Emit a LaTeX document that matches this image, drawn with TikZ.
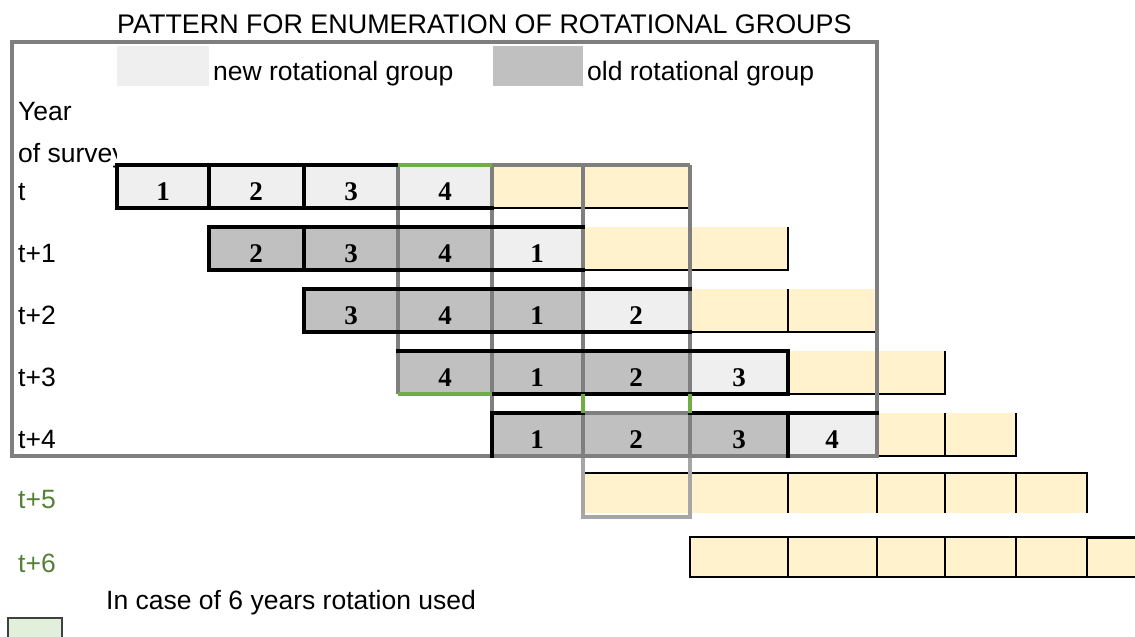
\documentclass[tikz,border=0pt]{standalone}
\usepackage{fontspec}
\setmainfont{Liberation Sans}
\newfontfamily\numfont{Liberation Serif}
\usetikzlibrary{positioning}

\definecolor{newgrp}{HTML}{EFEFEF}
\definecolor{oldgrp}{HTML}{C0C0C0}
\definecolor{creamcell}{HTML}{FFF2CC}
\definecolor{framegray}{HTML}{7F7F7F}
\definecolor{palegray}{HTML}{A6A6A6}
\definecolor{markgreen}{HTML}{70AD47}
\definecolor{yeargreen}{HTML}{548235}
\definecolor{legendgreen}{HTML}{E2EFDA}

\tikzset{
    lbl/.style={anchor=base west, inner sep=0pt, font=\fontsize{26.5}{30}\selectfont},
    num/.style={anchor=base, inner sep=0pt, font=\numfont\bfseries\fontsize{27}{30}\selectfont},
    thickb/.style={line width=4pt, black, line cap=rect},
    grayb/.style={line width=4pt, framegray},
    greenb/.style={line width=4pt, markgreen},
    paleb/.style={line width=4pt, palegray},
    thinb/.style={line width=1.5pt, black}
}

\begin{document}
\begin{tikzpicture}[x=1pt, y=-1pt]
\useasboundingbox (0,0) rectangle (1135,637);

% title and legend
\node (title) [lbl, font=\fontsize{26.9}{30}\selectfont] at (117,33) {PATTERN FOR ENUMERATION OF ROTATIONAL GROUPS};
\fill[newgrp] (117,46) rectangle (209,86);
\node (newlbl) [lbl] at (213,80) {new rotational group};
\fill[oldgrp] (493,46) rectangle (583,86);
\node (oldlbl) [lbl] at (587,80) {old rotational group};

% row labels
\node (year) [lbl] at (18,120) {Year};
\begin{scope}
    \clip (0,130) rectangle (116,175);
    \node (survey) [lbl] at (18,162) {of survey};
\end{scope}
\foreach \lab/\yt/\c [count=\k] in {t/165/black, t+1/227/black, t+2/289/black, t+3/351/black,
        t+4/413/black, t+5/473/yeargreen, t+6/537/yeargreen}
    \node (row\k) [lbl, text=\c] at (18,\yt+35) {\lab};

% cell fills
\foreach \xl/\xr/\yt/\c in {
        117/209/165/newgrp, 209/304/165/newgrp, 304/398/165/newgrp, 398/492/165/newgrp,
        209/304/227/oldgrp, 304/398/227/oldgrp, 398/492/227/oldgrp, 492/583/227/newgrp,
        304/398/289/oldgrp, 398/492/289/oldgrp, 492/583/289/oldgrp, 583/690/289/newgrp,
        398/492/351/oldgrp, 492/583/351/oldgrp, 583/690/351/oldgrp, 690/788/351/newgrp,
        492/583/413/oldgrp, 583/690/413/oldgrp, 690/788/413/oldgrp, 788/877/413/newgrp,
        492/690/165/creamcell, 583/788/227/creamcell, 690/877/289/creamcell,
        788/945/351/creamcell, 877/1016/413/creamcell}
    \fill[\c] (\xl,\yt) rectangle (\xr,\yt+43);
\fill[creamcell] (583,473) rectangle (1087,513);
\fill[creamcell] (690,537) rectangle (1135,577);

% group numbers
\foreach \xm/\yt/\n [count=\k] in {
        163/165/1, 256/165/2, 351/165/3, 445/165/4,
        256/227/2, 351/227/3, 445/227/4, 537/227/1,
        351/289/3, 445/289/4, 537/289/1, 636/289/2,
        445/351/4, 537/351/1, 636/351/2, 739/351/3,
        537/413/1, 636/413/2, 739/413/3, 832/413/4}
    \node (g\k) [num] at (\xm,\yt+35) {\n};

% thin cell borders
\draw[thinb] (492,208) -- (690,208);
\draw[thinb] (583,270) -- (788,270) -- (788,227);
\draw[thinb] (690,332) -- (877,332) (788,289) -- (788,332);
\draw[thinb] (788,394) -- (945,394) -- (945,351);
\draw[thinb] (877,456) -- (1016,456) -- (1016,413) (945,413) -- (945,456);
\draw[thinb] (583,473) -- (1087,473) -- (1087,513);
\foreach \x in {690,788,877,945,1016}
    \draw[thinb] (\x,473) -- (\x,513);
\draw[thinb] (1135,537) -- (690,537) -- (690,577) -- (1135,577);
\foreach \x in {788,877,945,1016,1087}
    \draw[thinb] (\x,537) -- (\x,577);
\draw[line width=3pt] (1087,537) -- (1135,537);

% column frames
\draw[grayb] (398,165) -- (398,394);
\draw[grayb] (492,165) -- (492,413);
\draw[grayb] (492,165) -- (690,165);
\draw[grayb] (583,165) -- (583,394) (583,413) -- (583,456);
\draw[grayb] (690,165) -- (690,394) (690,413) -- (690,456);
\draw[grayb] (583,413) -- (690,413);
\draw[paleb] (583,456) -- (583,517) -- (690,517) -- (690,456);

% outer frame
\draw[grayb] (12,42) rectangle (877,456);

% rotational groups
\draw[thickb] (398,165) -- (117,165) -- (117,208) -- (492,208) (209,165) -- (209,208) (304,165) -- (304,208);
\draw[thickb] (583,227) -- (209,227) -- (209,270) -- (583,270) (304,227) -- (304,270);
\draw[thickb] (690,289) -- (304,289) -- (304,332) -- (690,332);
\draw[thickb] (398,351) -- (788,351) -- (788,394) -- (492,394);
\draw[thickb] (583,413) -- (492,413) -- (492,456) (690,413) -- (877,413) (788,413) -- (788,456);

% 6 years marks
\draw[greenb] (398,165) -- (492,165);
\draw[greenb] (398,394) -- (492,394);
\draw[greenb] (583,394) -- (583,413) (690,394) -- (690,413);

% note
\draw[fill=legendgreen, draw=black!75, line width=1.2pt] (8,640) -- (8,618) -- (62,618) -- (62,640);
\node (note) [lbl] at (106,609) {In case of 6 years rotation used};
\end{tikzpicture}
\end{document}
